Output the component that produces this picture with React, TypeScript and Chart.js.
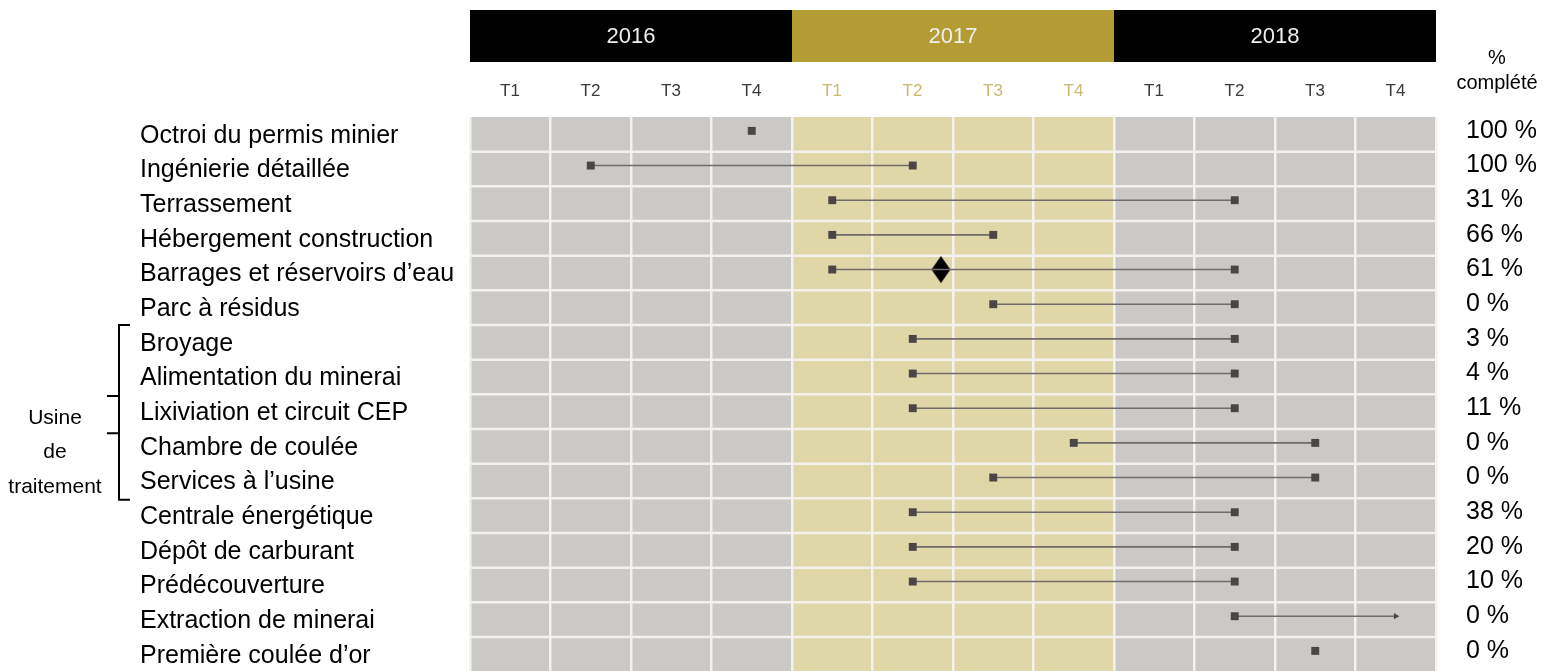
import { useEffect, useRef } from 'react';
import { Chart, registerables } from 'chart.js';

Chart.register(...registerables);

const years = ['2016', '2017', '2018'];
const quarterLabels = ['T1', 'T2', 'T3', 'T4'];

const tasks = [
  'Octroi du permis minier',
  'Ingénierie détaillée',
  'Terrassement',
  'Hébergement construction',
  'Barrages et réservoirs d’eau',
  'Parc à résidus',
  'Broyage',
  'Alimentation du minerai',
  'Lixiviation et circuit CEP',
  'Chambre de coulée',
  'Services à l’usine',
  'Centrale énergétique',
  'Dépôt de carburant',
  'Prédécouverture',
  'Extraction de minerai',
  'Première coulée d’or',
];

// positions in quarters from start of 2016 (quarter centres at n + 0.5)
const taskStart = [3.5, 1.5, 4.5, 4.5, 4.5, 6.5, 5.5, 5.5, 5.5, 7.5, 6.5, 5.5, 5.5, 5.5, 9.5, 10.5];
const taskEnd: (number | null)[] = [null, 5.5, 9.5, 6.5, 9.5, 9.5, 9.5, 9.5, 9.5, 10.5, 10.5, 9.5, 9.5, 9.5, 11.5, null];
const openEnded = [false, false, false, false, false, false, false, false, false, false, false, false, false, false, true, false];
const percentComplete = [100, 100, 31, 66, 61, 0, 3, 4, 11, 0, 0, 38, 20, 10, 0, 0];

const milestoneX = [5.85];
const milestoneRow = [4];

const groupLines = ['Usine', 'de', 'traitement'];
const groupFirstRow = 6;
const groupLastRow = 10;

const FONT = '"Liberation Sans", Arial, Helvetica, sans-serif';
const GRAY_BG = '#cbc8c8';
const GOLD_BG = '#e0d7a9';
const yearBg = [GRAY_BG, GOLD_BG, GRAY_BG];
const yearHeader = ['#000000', '#b59b33', '#000000'];
const GRID = '#f4f2ef';

function makeDiamond(): HTMLCanvasElement {
  const c = document.createElement('canvas');
  c.width = 20;
  c.height = 28;
  const g = c.getContext('2d')!;
  g.fillStyle = '#000';
  g.beginPath();
  g.moveTo(10, 0.5);
  g.lineTo(19.5, 14);
  g.lineTo(10, 27.5);
  g.lineTo(0.5, 14);
  g.closePath();
  g.fill();
  return c;
}

const decorPlugin = {
  id: 'decor',
  beforeDraw(chart: any) {
    const { ctx, chartArea: a, scales } = chart;
    const x = scales.x;
    const y = scales.y;
    ctx.save();
    years.forEach((yr, i) => {
      const x0 = x.getPixelForValue(i * 4);
      const x1 = x.getPixelForValue(i * 4 + 4);
      ctx.fillStyle = yearBg[i];
      ctx.fillRect(x0, a.top, x1 - x0, a.bottom - a.top);
      ctx.fillStyle = yearHeader[i];
      ctx.fillRect(x0, 10, x1 - x0, 52);
      ctx.fillStyle = '#eeeeee';
      ctx.font = `22px ${FONT}`;
      ctx.textAlign = 'center';
      ctx.textBaseline = 'middle';
      ctx.fillText(yr, (x0 + x1) / 2, 37);
    });
    // % complété header
    ctx.fillStyle = '#000';
    ctx.font = `20px ${FONT}`;
    ctx.textAlign = 'center';
    ctx.textBaseline = 'middle';
    ctx.fillText('%', 1497, 58);
    ctx.fillText('complété', 1497, 83);
    // bracket for group
    const top = y.getPixelForValue(groupFirstRow - 0.4);
    const bot = y.getPixelForValue(groupLastRow + 0.64);
    const t1 = y.getPixelForValue(groupFirstRow + 1.65);
    const t2 = y.getPixelForValue(groupFirstRow + 2.72);
    ctx.strokeStyle = '#000';
    ctx.lineWidth = 2;
    ctx.beginPath();
    ctx.moveTo(130, top);
    ctx.lineTo(119, top);
    ctx.lineTo(119, bot);
    ctx.lineTo(130, bot);
    ctx.moveTo(107, t1);
    ctx.lineTo(119, t1);
    ctx.moveTo(107, t2);
    ctx.lineTo(119, t2);
    ctx.stroke();
    ctx.font = `21px ${FONT}`;
    groupLines.forEach((t, i) => {
      ctx.fillText(t, 55, y.getPixelForValue(groupFirstRow + 2.28 + i));
    });
    ctx.restore();
  },
  beforeDatasetsDraw(chart: any) {
    const { ctx, chartArea: a, scales } = chart;
    const y = scales.y;
    ctx.save();
    ctx.strokeStyle = GRID;
    ctx.lineWidth = 2.5;
    tasks.forEach((_, i) => {
      const yy = y.getPixelForValue(i + 0.6);
      if (yy < a.bottom) {
        ctx.beginPath();
        ctx.moveTo(a.left, yy);
        ctx.lineTo(a.right, yy);
        ctx.stroke();
      }
    });
    ctx.restore();
  },
};

export default function App() {
  const ref = useRef<HTMLCanvasElement>(null);
  useEffect(() => {
    if (!ref.current) return;
    const taskDatasets = tasks.map((name, i) => {
      const pts: { x: number; y: number }[] = [{ x: taskStart[i], y: i }];
      const end = taskEnd[i];
      if (end !== null) pts.push({ x: end, y: i });
      const arrow = openEnded[i];
      return {
        type: 'line' as const,
        label: name,
        data: pts,
        borderColor: '#6f6b6b',
        borderWidth: 1.6,
        pointStyle: arrow ? ['rect', 'triangle'] : 'rect',
        pointRotation: arrow ? [0, 90] : 0,
        pointRadius: arrow ? [5.6, 3.6] : 5.6,
        pointBackgroundColor: '#4a4646',
        pointBorderColor: '#4a4646',
        pointBorderWidth: 0,
        xAxisID: 'x',
        yAxisID: 'y',
      };
    });
    const milestoneDataset = {
      type: 'line' as const,
      label: 'Jalon',
      data: milestoneX.map((v, i) => ({ x: v, y: milestoneRow[i] })),
      showLine: false,
      pointStyle: makeDiamond(),
      pointRadius: 12,
      pointBackgroundColor: '#000',
      pointBorderColor: '#000',
      pointBorderWidth: 0,
      xAxisID: 'x',
      yAxisID: 'y',
    };
    const chart = new Chart(ref.current, {
      type: 'line',
      data: { datasets: [...taskDatasets, milestoneDataset] as any },
      options: {
        responsive: false,
        animation: false,
        devicePixelRatio: 1,
        layout: { autoPadding: false, padding: { left: 140, top: 0, right: 0, bottom: 0 } },
        plugins: { legend: { display: false }, tooltip: { enabled: false } },
        scales: {
          x: {
            type: 'linear',
            position: 'top',
            min: 0,
            max: 12,
            afterBuildTicks: (axis: any) => {
              axis.ticks = Array.from({ length: 13 }, (_, k) => ({ value: k }));
            },
            afterFit: (axis: any) => {
              axis.height = 117;
              axis.paddingLeft = 0;
              axis.paddingRight = 0;
            },
            grid: { color: GRID, lineWidth: 2.5, drawTicks: false },
            border: { display: false },
            ticks: {
              autoSkip: false,
              maxRotation: 0,
              padding: 15,
              labelOffset: 40,
              font: { size: 17, family: FONT },
              color: (c: any) => (c.index >= 4 && c.index < 8 ? '#c9b96c' : '#3a3a3a'),
              callback: (v: any) => (v < 12 ? quarterLabels[v % 4] : ''),
            },
          },
          y: {
            type: 'linear',
            position: 'left',
            reverse: true,
            min: -0.4,
            max: 15.58,
            afterBuildTicks: (axis: any) => {
              axis.ticks = tasks.map((_, k) => ({ value: k }));
            },
            afterFit: (axis: any) => {
              axis.width = 330;
              axis.paddingTop = 0;
              axis.paddingBottom = 0;
            },
            grid: { display: false, drawTicks: false },
            border: { display: false },
            ticks: {
              autoSkip: false,
              crossAlign: 'far',
              labelOffset: 5,
              font: { size: 25, family: FONT },
              color: '#000',
              callback: (v: any) => tasks[v] ?? '',
            },
          },
          y2: {
            type: 'linear',
            position: 'right',
            reverse: true,
            min: -0.4,
            max: 15.58,
            afterBuildTicks: (axis: any) => {
              axis.ticks = percentComplete.map((_, k) => ({ value: k }));
            },
            afterFit: (axis: any) => {
              axis.width = 123;
              axis.paddingTop = 0;
              axis.paddingBottom = 0;
            },
            grid: { display: false, drawTicks: false },
            border: { display: false },
            ticks: {
              autoSkip: false,
              crossAlign: 'near',
              padding: 30,
              labelOffset: 0,
              font: { size: 25, family: FONT },
              color: '#000',
              callback: (v: any) => (percentComplete[v] !== undefined ? `${percentComplete[v]} %` : ''),
            },
          },
        },
      },
      plugins: [decorPlugin],
    } as any);
    return () => chart.destroy();
  }, []);
  return (
    <div style={{ position: 'absolute', left: 0, top: 0, width: 1559, height: 671, background: '#fff' }}>
      <canvas ref={ref} width={1559} height={671} style={{ display: 'block' }} />
    </div>
  );
}
